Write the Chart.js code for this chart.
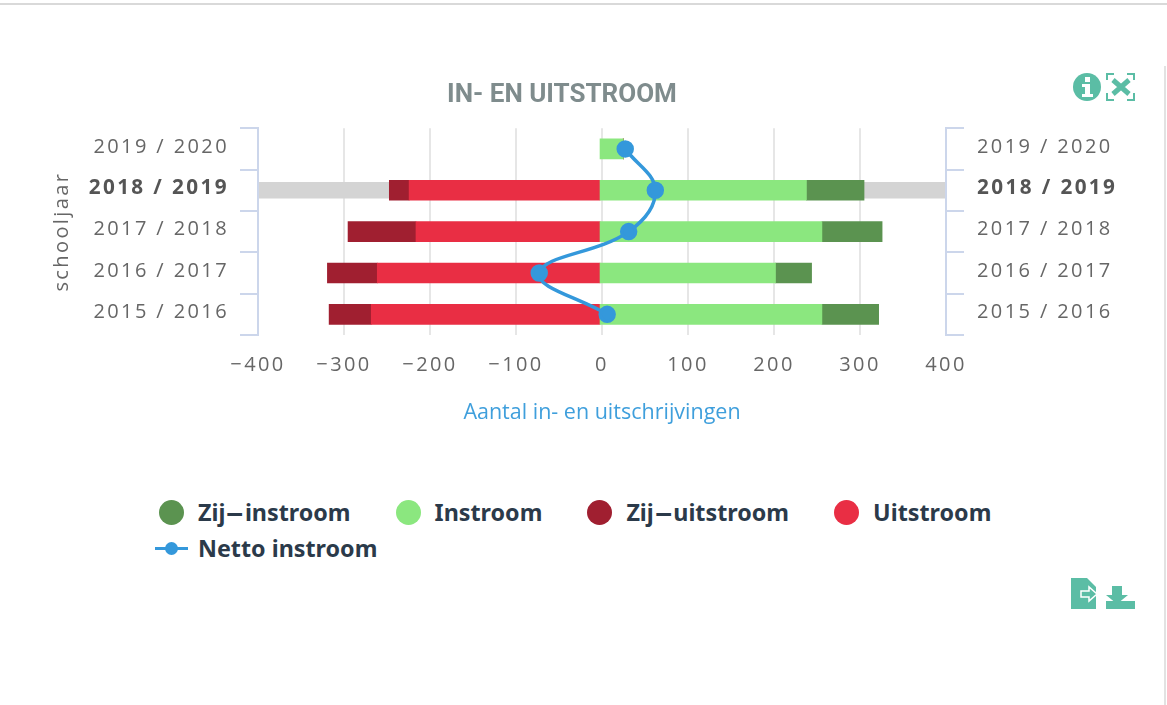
<!DOCTYPE html>
<html lang="nl">
<head>
<meta charset="utf-8">
<title>In- en uitstroom</title>
<script src="https://cdn.jsdelivr.net/npm/chart.js@4"></script>
<style>
    html, body { margin: 0; padding: 0; background: #fff; width: 1167px; height: 705px; overflow: hidden; }
    #topline { position: absolute; left: 0; top: 3px; width: 1167px; height: 2px; background: #d9d9d9; }
    #rightline { position: absolute; left: 1164px; top: 66px; width: 2px; height: 639px; background: #e2e2e2; }
    #wrap { position: absolute; left: 0; top: 0; width: 1124px; height: 450px; }
    #legend { position: absolute; left: 155px; top: 494px; width: 880px; display: flex; flex-wrap: wrap; column-gap: 41px;
        font: bold 23.3px "Noto Sans", sans-serif; color: #2b3a4a; }
    #legend .item { display: flex; align-items: center; height: 36px; white-space: pre; }
    #legend .dot { width: 25px; height: 25px; border-radius: 50%; margin: 0 14px 0 4px; }
    #legend .line { position: relative; width: 33px; height: 3px; margin-right: 10px; }
    #legend .line i { position: absolute; left: 10px; top: -5px; width: 13px; height: 13px; border-radius: 50%; background: inherit; }
    #legend .dash { display: inline-block; transform: scaleX(2.4); margin: 0 6px; }
    svg { position: absolute; }
</style>
</head>
<body>
<div id="topline"></div>
<div id="rightline"></div>
<div id="wrap"><canvas id="chart"></canvas></div>
<div id="legend"></div>

<svg style="left:1072px;top:72px" width="64" height="30" viewBox="0 0 64 30">
    <circle cx="15" cy="15" r="14" fill="#5bbda5"/>
    <rect x="13" y="5" width="5" height="5" fill="#fff"/>
    <path d="M10 12h8v10h3v3H10v-3h3v-7h-3z" fill="#fff"/>
    <path d="M35 8V2h7M55 2h7v6M35 21v7h7M55 28h7v-7" fill="none" stroke="#5bbda5" stroke-width="2"/>
    <path d="M41 8l16 14M57 8L41 22" stroke="#5bbda5" stroke-width="5"/>
</svg>
<svg style="left:1070px;top:577px" width="66" height="33" viewBox="0 0 66 33">
    <path d="M1 1h16l9 9v22H1z" fill="#5bbda5"/>
    <path d="M11 14h8v-4l8 7-8 7v-4h-8z" fill="#5bbda5" stroke="#fff" stroke-width="1.5"/>
    <path d="M42 9h10v9h6L47 27 36 18h6z" fill="#5bbda5"/>
    <rect x="36" y="24" width="29" height="8" fill="#5bbda5"/>
</svg>

<script>
const categories = ["2019 / 2020", "2018 / 2019", "2017 / 2018", "2016 / 2017", "2015 / 2016"];
const instroom = [27, 240, 258, 204, 258];
const zijInstroom = [0, 67, 70, 42, 66];
const uitstroom = [0, -222, -214, -259, -266];
const zijUitstroom = [0, -23, -79, -58, -49];
const nettoInstroom = [27, 62, 31, -73, 6];
const highlightBand = [null, [-400, 400], null, null, null];
const legendOrder = ["Zij-instroom", "Instroom", "Zij-uitstroom", "Uitstroom", "Netto instroom"];

const tickGrey = "#666666";
const axisBlue = "#ccd6eb";
const tickFont = "'Open Sans', sans-serif";

// Tick labels are spaced out, the title is not. Ticks are drawn after the datasets.
const letterSpacing = {
    id: "letterSpacing",
    beforeDraw(chart) { chart.ctx.letterSpacing = "0px"; },
    afterDatasetsDraw(chart) { chart.ctx.letterSpacing = "2.4px"; }
};

function yTicks(padding) {
    return {
        z: 1,
        padding: padding,
        labelOffset: -2,
        autoSkip: false,
        color: (c) => (c.index === 1 ? "#555555" : tickGrey),
        font: (c) => ({ family: tickFont, size: c.index === 1 ? 20.7 : 20, weight: c.index === 1 ? "bold" : "normal" })
    };
}

// z 1 on grid and border so the y axes keep their spaced text, border after grid
const yGrid = { z: 1, offset: true, drawOnChartArea: false, color: axisBlue, lineWidth: 2, tickLength: 18 };
const yBorder = { z: 1, color: axisBlue, width: 2 };

new Chart(document.getElementById("chart"), {
    data: {
        labels: categories,
        datasets: [
            { type: "line", label: "Netto instroom", data: nettoInstroom, indexAxis: "y", xAxisID: "x", yAxisID: "y",
              borderColor: "#3498db", backgroundColor: "#3498db", borderWidth: 3.5, pointRadius: 7, pointHoverRadius: 7,
              tension: 0.4, order: 0 },
            { type: "bar", label: "Instroom", data: instroom, backgroundColor: "#8be77f", xAxisID: "x2", yAxisID: "y", stack: "a", barThickness: 20, order: 1 },
            { type: "bar", label: "Zij-instroom", data: zijInstroom, backgroundColor: "#5b9350", xAxisID: "x2", yAxisID: "y", stack: "a", barThickness: 20, order: 1 },
            { type: "bar", label: "Uitstroom", data: uitstroom, backgroundColor: "#e92e44", xAxisID: "x2", yAxisID: "y", stack: "a", barThickness: 20, order: 1 },
            { type: "bar", label: "Zij-uitstroom", data: zijUitstroom, backgroundColor: "#a01f30", xAxisID: "x2", yAxisID: "y", stack: "a", barThickness: 20, order: 1 },
            { type: "bar", label: "2018 / 2019 markering", data: highlightBand, backgroundColor: "#d4d4d4", xAxisID: "x", yAxisID: "y", stack: "a", barThickness: 16, order: 2 }
        ]
    },
    options: {
        indexAxis: "y",
        responsive: true,
        maintainAspectRatio: false,
        animation: false,
        plugins: {
            legend: { display: false },
            title: {
                display: true,
                text: "IN- EN UITSTROOM",
                color: "#7f8c8d",
                font: { family: "Roboto", size: 26, weight: "bold" },
                padding: { top: 80, bottom: 17 }
            }
        },
        scales: {
            x: {
                type: "linear",
                position: "bottom",
                min: -400,
                max: 400,
                stacked: false,
                afterFit: (scale) => { scale.height = 115; },
                grid: { color: "#e6e6e6", lineWidth: 2, drawTicks: false },
                border: { display: false },
                ticks: {
                    z: 1,
                    stepSize: 100,
                    padding: 18,
                    maxRotation: 0,
                    color: tickGrey,
                    font: { family: tickFont, size: 20 },
                    callback: (v) => String(v).replace("-", "\u2212")
                },
                title: {
                    display: true,
                    text: "Aantal in- en uitschrijvingen",
                    color: "#3f9fdc",
                    font: { family: tickFont, size: 21.5 },
                    padding: { top: 0, bottom: 24.5 }
                }
            },
            x2: { type: "linear", display: false, stacked: true, min: -397.7, max: 402.3 },
            y: {
                type: "category",
                position: "left",
                stacked: true,
                afterFit: (scale) => { scale.width = 258; },
                grid: yGrid,
                border: yBorder,
                ticks: yTicks(11),
                title: {
                    display: true,
                    text: "schooljaar",
                    color: tickGrey,
                    font: { family: tickFont, size: 20 },
                    padding: { top: 50, bottom: 0 }
                }
            },
            y2: {
                type: "category",
                position: "right",
                labels: categories,
                offset: true,
                afterFit: (scale) => { scale.width = 178; },
                grid: yGrid,
                border: yBorder,
                ticks: yTicks(13)
            }
        }
    },
    plugins: [letterSpacing]
});

// legend under the chart, same colours as the datasets
const chartInstance = Chart.getChart("chart");
const legendBox = document.getElementById("legend");
legendOrder.forEach((name) => {
    const ds = chartInstance.data.datasets.find((d) => d.label === name);
    const item = document.createElement("div");
    item.className = "item";
    const key = document.createElement("span");
    key.className = ds.type === "line" ? "line" : "dot";
    key.style.background = ds.backgroundColor;
    if (ds.type === "line") key.appendChild(document.createElement("i"));
    item.appendChild(key);
    const label = document.createElement("span");
    label.innerHTML = name.replace("-", '<span class="dash">-</span>');
    item.appendChild(label);
    legendBox.appendChild(item);
});
</script>
</body>
</html>
